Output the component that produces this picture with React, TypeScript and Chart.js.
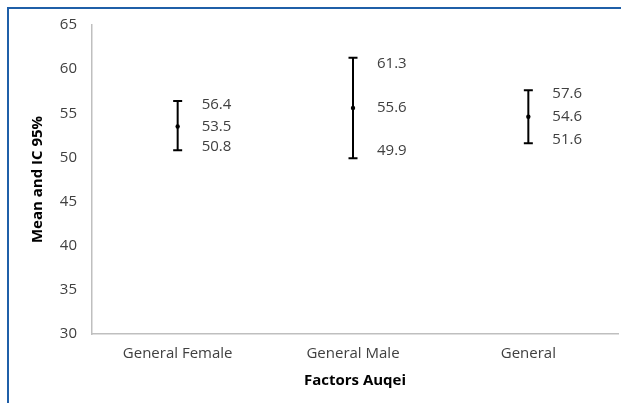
import { useEffect, useRef } from "react";
import { Chart, registerables } from "chart.js";

Chart.register(...registerables);

// Groups on the horizontal axis
const categories = ["General Female", "General Male", "General"];
// Mean score and 95% confidence interval bounds per group
const means = [53.5, 55.6, 54.6];
const lowerBounds = [50.8, 49.9, 51.6];
const upperBounds = [56.4, 61.3, 57.6];
// Value axis range
const yMin = 30;
const yMax = 65;
const yStep = 5;

const FONT = "'Open Sans', 'Noto Sans', sans-serif";

// Draws the confidence-interval whiskers and the value labels beside them
const intervalPlugin = {
  id: "intervalBars",
  afterDatasetsDraw(chart: any) {
    const { ctx, scales } = chart;
    const xs = scales.x;
    const ys = scales.y;
    ctx.save();
    ctx.strokeStyle = "#000000";
    ctx.lineWidth = 2;
    ctx.lineCap = "butt";
    categories.forEach((_, i) => {
      const x = xs.getPixelForValue(i) - 2;
      const yTop = ys.getPixelForValue(upperBounds[i]);
      const yBot = ys.getPixelForValue(lowerBounds[i]);
      const yMid = ys.getPixelForValue(means[i]);
      const cap = 4.5;
      ctx.beginPath();
      ctx.moveTo(x, yTop);
      ctx.lineTo(x, yBot);
      ctx.moveTo(x - cap, yTop);
      ctx.lineTo(x + cap, yTop);
      ctx.moveTo(x - cap, yBot);
      ctx.lineTo(x + cap, yBot);
      ctx.stroke();

      // mean marker
      ctx.fillStyle = "#000000";
      ctx.beginPath();
      ctx.arc(x, yMid, 2.2, 0, Math.PI * 2);
      ctx.fill();

      // labels sit to the right, nudged slightly toward the mean
      ctx.fillStyle = "#404040";
      ctx.font = `15px ${FONT}`;
      ctx.textAlign = "left";
      ctx.textBaseline = "middle";
      const lx = x + 24;
      ctx.fillText(upperBounds[i].toFixed(1), lx, yTop + (yMid - yTop) * 0.13);
      ctx.fillText(means[i].toFixed(1), lx, yMid);
      ctx.fillText(lowerBounds[i].toFixed(1), lx, yBot - (yBot - yMid) * 0.15);
    });
    ctx.restore();
  },
};

export default function App() {
  const canvasRef = useRef<HTMLCanvasElement | null>(null);

  useEffect(() => {
    if (!canvasRef.current) return;
    const chart = new Chart(canvasRef.current, {
      type: "line",
      data: {
        labels: categories,
        datasets: [
          {
            data: means,
            showLine: false,
            pointRadius: 0,
            pointHoverRadius: 0,
          },
        ],
      },
      options: {
        animation: false,
        responsive: true,
        maintainAspectRatio: false,
        layout: { padding: { left: 0, top: 25, right: 3, bottom: 0 } },
        plugins: {
          legend: { display: false },
          tooltip: { enabled: false },
        },
        scales: {
          x: {
            type: "category",
            offset: true,
            grid: { display: false, drawTicks: false },
            border: { display: true, color: "#bfbfbf", width: 1.5 },
            ticks: {
              color: "#404040",
              font: { family: FONT, size: 15 },
              padding: 11,
              maxRotation: 0,
              labelOffset: -2,
            },
            title: {
              display: true,
              text: "Factors Auqei",
              color: "#000000",
              font: { family: FONT, size: 15, weight: "bold" },
              padding: { top: 0, bottom: 13 },
            },
            afterFit(scale: any) {
              scale.height = 403 - 334;
            },
          },
          y: {
            min: yMin,
            max: yMax,
            grid: { display: false, drawTicks: false },
            border: { display: true, color: "#bfbfbf", width: 1.5 },
            ticks: {
              stepSize: yStep,
              color: "#404040",
              font: { family: FONT, size: 15 },
              padding: 15,
            },
            title: {
              display: true,
              text: "Mean and IC 95%",
              color: "#000000",
              font: { family: FONT, size: 15, weight: "bold" },
              padding: { top: 29, bottom: 0 },
            },
            afterFit(scale: any) {
              scale.width = 92;
            },
          },
        },
      },
      plugins: [intervalPlugin],
    });
    return () => chart.destroy();
  }, []);

  return (
    <div
      style={{
        position: "fixed",
        left: 0,
        top: 0,
        width: 621,
        height: 403,
        background: "#ffffff",
      }}
    >
      <canvas ref={canvasRef} />
      <div
        style={{
          position: "absolute",
          left: 7,
          top: 7,
          right: -10,
          bottom: -10,
          borderTop: "2.5px solid #1f5fa8",
          borderLeft: "2.5px solid #1f5fa8",
          pointerEvents: "none",
        }}
      />
    </div>
  );
}
